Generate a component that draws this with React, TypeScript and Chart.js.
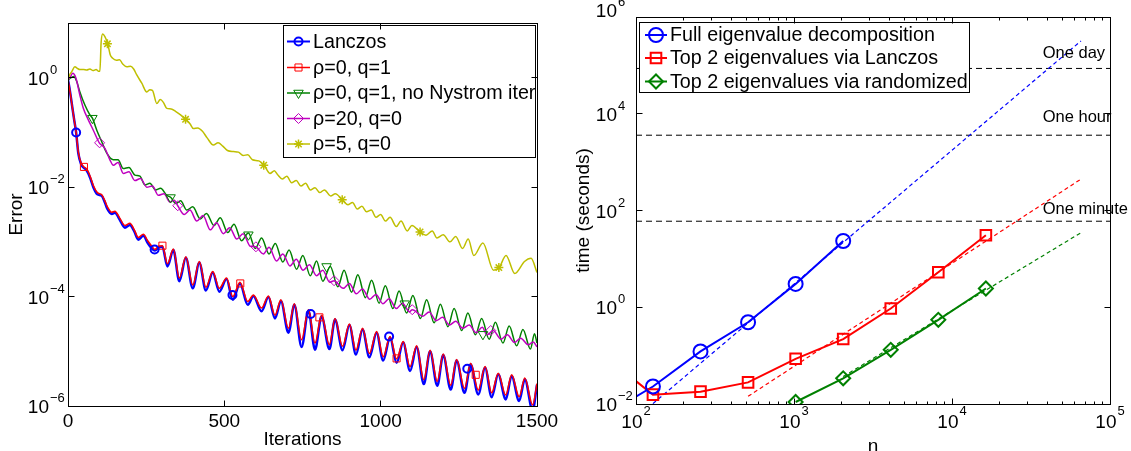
import React, { useEffect, useRef } from 'react';
import { Chart, registerables } from 'chart.js';
import { drawPoint } from 'chart.js/helpers';

Chart.register(...registerables);

const FONT = '"Liberation Sans", Arial, Helvetica, sans-serif';
const BLUE = '#0000ff';
const RED = '#ff0000';
const GREEN = '#008000';
const MAGENTA = '#bf00bf';
const YELLOW = '#bfbf00';

// ================= LEFT PANEL DATA (log10 of Error vs iteration) =================
const leftSeriesLabels = ['Lanczos', 'ρ=0, q=1', 'ρ=0, q=1, no Nystrom iter', 'ρ=20, q=0', 'ρ=5, q=0'];

const lanczosIter = [
  0, 5, 12, 20, 26, 33, 42, 51, 58, 65, 72, 81, 94, 108, 118, 126, 140, 150, 166, 182,
  198, 212, 225, 241, 255, 268, 278, 290, 302, 318, 337, 356, 377, 399, 420, 441, 463, 484, 507, 527,
  550, 575, 593, 619, 641, 662, 681, 705, 724, 747, 769, 790, 811, 836, 854, 878, 900, 921, 942, 964,
  987, 1008, 1030, 1051, 1072, 1094, 1115, 1138, 1158, 1181, 1200, 1224, 1243, 1268, 1288, 1312, 1334, 1355, 1376, 1400,
  1419, 1443, 1461, 1486, 1500,
];
const lanczosLog10Err = [
  -0.04, -0.2, -0.47, -0.78, -1.0, -1.38, -1.58, -1.65, -1.68, -1.75,
  -1.85, -2.0, -2.13, -2.16, -2.28, -2.4, -2.49, -2.47, -2.6, -2.74,
  -2.69, -2.81, -2.96, -2.89, -3.02, -3.12, -3.16, -3.1, -3.09, -3.45,
  -3.15, -3.72, -3.29, -3.85, -3.38, -3.89, -3.56, -3.91, -3.68, -4.06,
  -3.76, -4.15, -3.99, -4.27, -4.01, -4.4, -4.08, -4.66, -4.15, -4.92,
  -4.26, -4.97, -4.36, -4.96, -4.42, -4.98, -4.52, -5.06, -4.6, -5.11,
  -4.66, -5.17, -4.75, -5.21, -4.84, -5.36, -4.92, -5.6, -5.0, -5.63,
  -5.07, -5.7, -5.17, -5.76, -5.24, -5.79, -5.3, -5.84, -5.42, -5.88,
  -5.45, -5.91, -5.51, -6.08, -5.61,
];
const rho0q1Log10Err = [
  -0.04, -0.2, -0.47, -0.78, -1.0, -1.36, -1.56, -1.63, -1.66, -1.72,
  -1.82, -1.97, -2.1, -2.14, -2.25, -2.36, -2.46, -2.44, -2.57, -2.7,
  -2.66, -2.78, -2.92, -2.86, -2.98, -3.08, -3.14, -3.08, -3.07, -3.4,
  -3.13, -3.66, -3.27, -3.79, -3.36, -3.83, -3.54, -3.85, -3.66, -4.0,
  -3.74, -4.09, -3.97, -4.21, -3.99, -4.34, -4.06, -4.58, -4.13, -4.79,
  -4.24, -4.85, -4.34, -4.88, -4.4, -4.91, -4.5, -4.98, -4.58, -5.04,
  -4.64, -5.1, -4.73, -5.14, -4.82, -5.28, -4.9, -5.52, -4.98, -5.55,
  -5.05, -5.62, -5.15, -5.68, -5.22, -5.71, -5.28, -5.76, -5.4, -5.8,
  -5.43, -5.83, -5.49, -5.98, -5.59,
];

const noNystromIter = [
  0, 10, 18, 28, 38, 54, 70, 78, 92, 108, 124, 145, 160, 177, 195, 214, 230, 246, 262, 280,
  296, 316, 329, 345, 360, 380, 399, 423, 443, 467, 487, 511, 531, 555, 577, 599, 619, 643, 663, 687,
  707, 731, 751, 775, 795, 815, 839, 863, 883, 907, 927, 951, 971, 995, 1015, 1039, 1059, 1083, 1103, 1127,
  1147, 1171, 1191, 1215, 1235, 1259, 1279, 1303, 1323, 1347, 1367, 1391, 1411, 1435, 1455, 1479, 1492, 1500,
];
const noNystromLog10Err = [
  -0.04, 0.0, 0.02, -0.07, -0.26, -0.5, -0.68, -0.74, -0.96, -1.17,
  -1.38, -1.5, -1.5, -1.66, -1.64, -1.78, -1.8, -1.96, -1.93, -2.05,
  -2.02, -2.15, -2.19, -2.3, -2.25, -2.42, -2.36, -2.58, -2.48, -2.7,
  -2.56, -2.83, -2.68, -2.98, -2.84, -3.12, -2.93, -3.22, -3.03, -3.37,
  -3.15, -3.5, -3.25, -3.62, -3.35, -3.72, -3.45, -3.82, -3.52, -3.92,
  -3.6, -4.02, -3.7, -4.12, -3.8, -4.22, -3.9, -4.3, -3.98, -4.4,
  -4.06, -4.48, -4.14, -4.55, -4.22, -4.62, -4.3, -4.7, -4.4, -4.78,
  -4.47, -4.85, -4.54, -4.9, -4.6, -4.96, -4.68, -4.85,
];

const rho20Iter = [
  0, 8, 15, 25, 38, 49, 65, 81, 100, 118, 134, 145, 160, 177, 195, 214, 232, 252, 270, 289,
  307, 326, 340, 351, 372, 390, 412, 432, 455, 475, 497, 517, 540, 560, 583, 600, 625, 643, 667, 687,
  710, 730, 752, 772, 795, 815, 837, 851, 880, 900, 922, 942, 965, 985, 1007, 1027, 1050, 1070, 1092, 1101,
  1135, 1155, 1178, 1198, 1220, 1240, 1263, 1283, 1305, 1325, 1340, 1360, 1385, 1405, 1428, 1448, 1472, 1488, 1500,
];
const rho20Log10Err = [
  -0.04, 0.02, 0.08, 0.0, -0.32, -0.56, -0.77, -0.96, -1.19, -1.29,
  -1.5, -1.6, -1.55, -1.75, -1.72, -1.88, -1.84, -2.0, -1.98, -2.15,
  -2.12, -2.27, -2.24, -2.34, -2.5, -2.42, -2.62, -2.52, -2.78, -2.65,
  -2.85, -2.74, -2.95, -2.85, -3.08, -3.09, -3.22, -3.1, -3.35, -3.22,
  -3.44, -3.32, -3.52, -3.42, -3.62, -3.52, -3.74, -3.71, -3.85, -3.76,
  -3.95, -3.86, -4.05, -3.96, -4.13, -4.04, -4.22, -4.12, -4.28, -4.24,
  -4.36, -4.28, -4.44, -4.38, -4.52, -4.45, -4.58, -4.52, -4.66, -4.56,
  -4.7, -4.62, -4.78, -4.7, -4.84, -4.76, -4.88, -4.83, -4.92,
];

const rho5Iter = [
  0, 5, 12, 22, 30, 38, 50, 60, 70, 80, 90, 97, 102, 106, 111, 118, 127, 135, 142, 155,
  165, 175, 188, 200, 210, 220, 236, 252, 262, 270, 284, 295, 305, 316, 330, 345, 360, 376, 390, 401,
  415, 430, 445, 465, 480, 495, 510, 529, 545, 560, 575, 590, 610, 627, 646, 660, 670, 685, 700, 715,
  730, 745, 760, 775, 790, 805, 820, 840, 855, 877, 895, 910, 925, 940, 955, 970, 985, 1000, 1015, 1030,
  1050, 1065, 1085, 1100, 1126, 1145, 1165, 1180, 1200, 1222, 1240, 1262, 1280, 1298, 1327, 1361, 1379, 1401, 1429, 1460,
  1481, 1500,
];
const rho5Log10Err = [
  -0.04, 0.05, 0.11, 0.2, 0.17, 0.15, 0.15, 0.14, 0.16, 0.13,
  0.15, 0.12, 0.12, 0.65, 0.8, 0.75, 0.62, 0.42, 0.36, 0.32,
  0.33, 0.25, 0.2, 0.21, 0.16, 0.05, -0.1, -0.26, -0.22, -0.23,
  -0.47, -0.4, -0.45, -0.56, -0.57, -0.62, -0.68, -0.76, -0.84, -0.93,
  -0.92, -0.98, -1.1, -1.23, -1.19, -1.25, -1.33, -1.35, -1.36, -1.42,
  -1.41, -1.5, -1.52, -1.6, -1.75, -1.7, -1.77, -1.85, -1.8, -1.92,
  -1.88, -1.98, -1.93, -2.05, -2.01, -2.1, -2.05, -2.16, -2.12, -2.23,
  -2.32, -2.28, -2.4, -2.35, -2.45, -2.42, -2.55, -2.5, -2.62, -2.55,
  -2.72, -2.62, -2.8, -2.7, -2.82, -2.88, -2.8, -2.93, -2.87, -3.0,
  -2.9, -3.12, -2.95, -3.25, -3.02, -3.52, -3.47, -3.25, -3.58, -3.36,
  -3.3, -3.56,
];

// marker positions (iteration, log10 error)
const lanczosMarkIter = [26, 277, 526, 776, 1027, 1277];
const lanczosMarkLog = [-1.0, -3.14, -3.97, -4.32, -4.73, -5.32];
const rho0q1MarkIter = [51, 302, 551, 804, 1051, 1304];
const rho0q1MarkLog = [-1.63, -3.07, -3.76, -4.38, -5.13, -5.43];
const noNystromMarkIter = [78, 328, 577, 827, 1077, 1327];
const noNystromMarkLog = [-0.74, -2.19, -2.87, -3.45, -4.13, -4.69];
const rho20MarkIter = [101, 351, 601, 851, 1101, 1352];
const rho20MarkLog = [-1.19, -2.34, -3.09, -3.71, -4.24, -4.62];
const rho5MarkIter = [126, 376, 626, 877, 1126, 1378];
const rho5MarkLog = [0.62, -0.76, -1.6, -2.23, -2.82, -3.47];

const leftXTickValues = [0, 500, 1000, 1500];
const leftXTickLabels = ['0', '500', '1000', '1500'];
const leftYTickValues = [1, 1e-2, 1e-4, 1e-6];
const leftYTickExps = ['0', '−2', '−4', '−6'];

// ================= RIGHT PANEL DATA (time in seconds vs n) =================
const rightSeriesLabels = ['Full eigenvalue decomposition', 'Top 2 eigenvalues via Lanczos', 'Top 2 eigenvalues via randomized'];

const fullN = [64, 128, 256, 512, 1024, 2048];
const fullTime = [0.0059, 0.023, 0.122, 0.49, 3.04, 23.4];
const lanczosN = [64, 128, 256, 512, 1024, 2048, 4096, 8192, 16384];
const lanczosTime = [0.095, 0.0156, 0.018, 0.028, 0.086, 0.22, 0.94, 5.3, 30.7];
const randN = [1024, 2048, 4096, 8192, 16384];
const randTime = [0.011, 0.034, 0.132, 0.55, 2.44];

const fullFitN = [128, 65536];
const fullFitTime = [0.0102, 3.2e5];
const lanczosFitN = [512, 65536];
const lanczosFitTime = [0.0144, 446];
const randFitN = [2048, 65536];
const randFitTime = [0.037, 34.8];

const refTimes = [60, 3600, 86400];
const refLabels = ['One minute', 'One hour', 'One day'];

const rightXTickValues = [1e2, 1e3, 1e4, 1e5];
const rightXTickExps = ['2', '3', '4', '5'];
const rightXMinor = [200, 300, 400, 500, 600, 700, 800, 900, 2000, 3000, 4000, 5000, 6000, 7000, 8000, 9000, 20000, 30000, 40000, 50000, 60000, 70000, 80000, 90000];
const rightYTickValues = [1e-2, 1, 1e2, 1e4, 1e6];
const rightYTickExps = ['−2', '0', '2', '4', '6'];

// ================= helpers =================
const ptsLog = (xs: number[], ls: number[]) => xs.map((x, i) => ({ x, y: Math.pow(10, ls[i]) }));
const pts = (xs: number[], ys: number[]) => xs.map((x, i) => ({ x, y: ys[i] }));

type TickLab = { v: number; base: string; exp?: string };

function framePlugin(o: {
  xTicks: TickLab[];
  yTicks: TickLab[];
  xMinor: number[];
  xTitle: string;
  yTitle: string;
  xTitleY: number;
  yTitleX: number;
}) {
  return {
    id: 'frame',
    afterDraw(chart: any) {
      const { ctx, chartArea: a, scales } = chart;
      const xs = scales.x;
      const ys = scales.y;
      const L = Math.floor(a.left) + 0.5;
      const R = Math.floor(a.right) + 0.5;
      const T = Math.floor(a.top) + 0.5;
      const B = Math.floor(a.bottom) + 0.5;
      ctx.save();
      ctx.setLineDash([]);
      ctx.strokeStyle = '#000';
      ctx.lineWidth = 1;
      ctx.strokeRect(L, T, R - L, B - T);
      ctx.beginPath();
      const MAJ = 6;
      const MIN = 3;
      for (const t of o.xTicks) {
        const px = Math.floor(xs.getPixelForValue(t.v)) + 0.5;
        ctx.moveTo(px, B); ctx.lineTo(px, B - MAJ);
        ctx.moveTo(px, T); ctx.lineTo(px, T + MAJ);
      }
      for (const v of o.xMinor) {
        const px = Math.floor(xs.getPixelForValue(v)) + 0.5;
        ctx.moveTo(px, B); ctx.lineTo(px, B - MIN);
        ctx.moveTo(px, T); ctx.lineTo(px, T + MIN);
      }
      for (const t of o.yTicks) {
        const py = Math.floor(ys.getPixelForValue(t.v)) + 0.5;
        ctx.moveTo(L, py); ctx.lineTo(L + MAJ, py);
        ctx.moveTo(R, py); ctx.lineTo(R - MAJ, py);
      }
      ctx.stroke();

      ctx.fillStyle = '#000';
      ctx.textBaseline = 'alphabetic';
      // y tick labels: "10" with superscript exponent
      for (const t of o.yTicks) {
        let py = ys.getPixelForValue(t.v);
        if (Math.abs(py - a.top) < 1) py -= 7;
        ctx.font = `19px ${FONT}`;
        ctx.textAlign = 'right';
        ctx.fillText(t.base, a.left - 19, py + 7);
        if (t.exp) {
          ctx.font = `13px ${FONT}`;
          ctx.textAlign = 'left';
          ctx.fillText(t.exp, a.left - 18, py - 4);
        }
      }
      // x tick labels
      for (const t of o.xTicks) {
        const px = xs.getPixelForValue(t.v);
        ctx.font = `19px ${FONT}`;
        const wb = ctx.measureText(t.base).width;
        let we = 0;
        if (t.exp) {
          ctx.font = `13px ${FONT}`;
          we = ctx.measureText(t.exp).width + 1;
        }
        const x0 = px - (wb + we) / 2;
        ctx.textAlign = 'left';
        ctx.font = `19px ${FONT}`;
        ctx.fillText(t.base, x0, a.bottom + (t.exp ? 24 : 21));
        if (t.exp) {
          ctx.font = `13px ${FONT}`;
          ctx.fillText(t.exp, x0 + wb + 1, a.bottom + 11);
        }
      }
      // titles
      ctx.font = `19px ${FONT}`;
      ctx.textAlign = 'center';
      ctx.fillText(o.xTitle, (a.left + a.right) / 2, o.xTitleY);
      ctx.save();
      ctx.translate(o.yTitleX, (a.top + a.bottom) / 2);
      ctx.rotate(-Math.PI / 2);
      ctx.fillText(o.yTitle, 0, 0);
      ctx.restore();
      ctx.restore();
    },
  };
}

type LegendItem = { label: string; color: string; style: string; rotation?: number; radius: number; lw: number; lineW: number };

function legendPlugin(o: { box: [number, number, number, number]; rowY: number[]; lineX: [number, number]; textX: number; font: number; items: LegendItem[] }) {
  return {
    id: 'boxLegend',
    afterDatasetsDraw(chart: any) {
      const ctx = chart.ctx;
      const [x1, y1, x2, y2] = o.box;
      ctx.save();
      ctx.setLineDash([]);
      ctx.fillStyle = '#fff';
      ctx.fillRect(x1, y1, x2 - x1, y2 - y1);
      ctx.strokeStyle = '#000';
      ctx.lineWidth = 1;
      ctx.strokeRect(x1 + 0.5, y1 + 0.5, x2 - x1 - 1, y2 - y1 - 1);
      o.items.forEach((it, i) => {
        const y = o.rowY[i];
        ctx.strokeStyle = it.color;
        ctx.lineWidth = it.lineW;
        ctx.beginPath();
        ctx.moveTo(o.lineX[0], y);
        ctx.lineTo(o.lineX[1], y);
        ctx.stroke();
        ctx.lineWidth = it.lw;
        ctx.fillStyle = 'rgba(0,0,0,0)';
        drawPoint(ctx, { pointStyle: it.style as any, rotation: it.rotation || 0, radius: it.radius, borderWidth: it.lw }, (o.lineX[0] + o.lineX[1]) / 2, y);
        ctx.fillStyle = '#000';
        ctx.font = `${o.font}px ${FONT}`;
        ctx.textAlign = 'left';
        ctx.textBaseline = 'middle';
        ctx.fillText(it.label, o.textX, y + 1);
      });
      ctx.restore();
    },
  };
}

const refLabelPlugin = {
  id: 'refLabels',
  afterDraw(chart: any) {
    const { ctx, scales } = chart;
    const offs = [12, 18, 15];
    const x = scales.x.getPixelForValue(37500);
    ctx.save();
    ctx.fillStyle = '#000';
    ctx.font = `16.5px ${FONT}`;
    ctx.textAlign = 'left';
    ctx.textBaseline = 'middle';
    refTimes.forEach((t, i) => {
      ctx.fillText(refLabels[i], x, scales.y.getPixelForValue(t) - offs[i]);
    });
    ctx.restore();
  },
};

function markerSet(data: any[], color: string, style: string, radius: number, lw: number, rotation = 0) {
  return {
    data,
    showLine: false,
    pointStyle: style,
    pointRadius: radius,
    pointRotation: rotation,
    pointBorderWidth: lw,
    pointBorderColor: color,
    pointBackgroundColor: 'rgba(0,0,0,0)',
    borderColor: color,
  };
}

function lineSet(data: any[], color: string, width: number, dash: number[] = [], smooth = true) {
  return {
    data,
    borderColor: color,
    borderWidth: width,
    borderDash: dash,
    pointRadius: 0,
    fill: false,
    cubicInterpolationMode: smooth ? 'monotone' : 'default',
    tension: 0,
  };
}

function leftConfig(): any {
  return {
    type: 'line',
    data: {
      datasets: [
        markerSet(ptsLog(lanczosMarkIter, lanczosMarkLog), BLUE, 'circle', 4, 2),
        markerSet(ptsLog(rho0q1MarkIter, rho0q1MarkLog), RED, 'rect', 5, 1),
        markerSet(ptsLog(noNystromMarkIter, noNystromMarkLog), GREEN, 'triangle', 5.5, 1, 180),
        markerSet(ptsLog(rho20MarkIter, rho20MarkLog), MAGENTA, 'rectRot', 5, 1),
        markerSet(ptsLog(rho5MarkIter, rho5MarkLog), YELLOW, 'star', 4.5, 1.5),
        lineSet(ptsLog(rho5Iter, rho5Log10Err), YELLOW, 1.5),
        lineSet(ptsLog(rho20Iter, rho20Log10Err), MAGENTA, 1.5),
        lineSet(ptsLog(noNystromIter, noNystromLog10Err), GREEN, 1.5),
        lineSet(ptsLog(lanczosIter, rho0q1Log10Err), RED, 1.5),
        lineSet(ptsLog(lanczosIter, lanczosLog10Err), BLUE, 2.5),
      ],
    },
    options: {
      animation: false,
      responsive: false,
      devicePixelRatio: 1,
      events: [],
      layout: { padding: { left: 68, right: 28, top: 23, bottom: 45 } },
      plugins: { legend: { display: false }, tooltip: { enabled: false } },
      scales: {
        x: { type: 'linear', min: 0, max: 1500, display: false },
        y: { type: 'logarithmic', min: 1e-6, max: 10, display: false },
      },
    },
    plugins: [
      legendPlugin({
        box: [283, 25, 536, 158],
        rowY: [41.5, 67.5, 93, 118.5, 144],
        lineX: [287, 310],
        textX: 313,
        font: 19.7,
        items: [
          { label: leftSeriesLabels[0], color: BLUE, style: 'circle', radius: 4, lw: 2, lineW: 2 },
          { label: leftSeriesLabels[1], color: RED, style: 'rect', radius: 5, lw: 1, lineW: 1.5 },
          { label: leftSeriesLabels[2], color: GREEN, style: 'triangle', rotation: 180, radius: 5.5, lw: 1, lineW: 1.5 },
          { label: leftSeriesLabels[3], color: MAGENTA, style: 'rectRot', radius: 5, lw: 1, lineW: 1.5 },
          { label: leftSeriesLabels[4], color: YELLOW, style: 'star', radius: 4.5, lw: 1.5, lineW: 1.5 },
        ],
      }),
      framePlugin({
        xTicks: leftXTickValues.map((v, i) => ({ v, base: leftXTickLabels[i] })),
        yTicks: leftYTickValues.map((v, i) => ({ v, base: '10', exp: leftYTickExps[i] })),
        xMinor: [],
        xTitle: 'Iterations',
        yTitle: 'Error',
        xTitleY: 445,
        yTitleX: 22,
      }),
    ],
  };
}

function rightConfig(): any {
  return {
    type: 'line',
    data: {
      datasets: [
        markerSet(pts(fullN, fullTime), BLUE, 'circle', 7, 2),
        markerSet(pts(lanczosN, lanczosTime), RED, 'rect', 7.5, 2),
        markerSet(pts(randN, randTime), GREEN, 'rectRot', 7, 2),
        lineSet(pts(fullN, fullTime), BLUE, 2, [], false),
        lineSet(pts(lanczosN, lanczosTime), RED, 2, [], false),
        lineSet(pts(randN, randTime), GREEN, 2, [], false),
        lineSet(pts(fullFitN, fullFitTime), BLUE, 1.2, [4, 3], false),
        lineSet(pts(lanczosFitN, lanczosFitTime), RED, 1.2, [4, 3], false),
        lineSet(pts(randFitN, randFitTime), GREEN, 1.2, [4, 3], false),
        ...refTimes.map((t) => lineSet(pts([100, 100000], [t, t]), '#000', 1, [6, 4], false)),
      ],
    },
    options: {
      animation: false,
      responsive: false,
      devicePixelRatio: 1,
      events: [],
      layout: { padding: { left: 71, right: 21, top: 17, bottom: 47 } },
      plugins: { legend: { display: false }, tooltip: { enabled: false } },
      scales: {
        x: { type: 'logarithmic', min: 100, max: 100000, display: false },
        y: { type: 'logarithmic', min: 1e-2, max: 1e6, display: false },
      },
    },
    plugins: [
      legendPlugin({
        box: [74, 22, 405, 93],
        rowY: [35, 58, 81.5],
        lineX: [80, 102],
        textX: 105,
        font: 19.7,
        items: [
          { label: rightSeriesLabels[0], color: BLUE, style: 'circle', radius: 7, lw: 2, lineW: 2 },
          { label: rightSeriesLabels[1], color: RED, style: 'rect', radius: 7.5, lw: 2, lineW: 2 },
          { label: rightSeriesLabels[2], color: GREEN, style: 'rectRot', radius: 7, lw: 2, lineW: 2 },
        ],
      }),
      refLabelPlugin,
      framePlugin({
        xTicks: rightXTickValues.map((v, i) => ({ v, base: '10', exp: rightXTickExps[i] })),
        yTicks: rightYTickValues.map((v, i) => ({ v, base: '10', exp: rightYTickExps[i] })),
        xMinor: rightXMinor,
        xTitle: 'n',
        yTitle: 'time (seconds)',
        xTitleY: 452,
        yTitleX: 24,
      }),
    ],
  };
}

export default function App() {
  const leftRef = useRef<HTMLCanvasElement>(null);
  const rightRef = useRef<HTMLCanvasElement>(null);
  useEffect(() => {
    const c1 = new Chart(leftRef.current as HTMLCanvasElement, leftConfig());
    const c2 = new Chart(rightRef.current as HTMLCanvasElement, rightConfig());
    return () => {
      c1.destroy();
      c2.destroy();
    };
  }, []);
  return (
    <div style={{ position: 'fixed', left: 0, top: 0, width: 1131, height: 451, background: '#fff', overflow: 'hidden' }}>
      <canvas ref={leftRef} width={565} height={451} style={{ position: 'absolute', left: 0, top: 0, width: 565, height: 451 }} />
      <canvas ref={rightRef} width={566} height={451} style={{ position: 'absolute', left: 565, top: 0, width: 566, height: 451 }} />
    </div>
  );
}
